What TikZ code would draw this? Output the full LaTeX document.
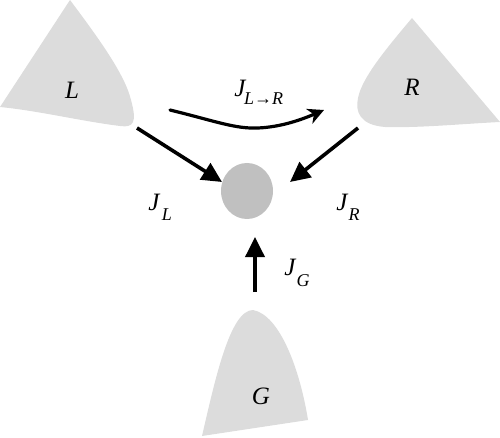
\documentclass[tikz,border=0pt]{standalone}
\usepackage{fontspec}
\setmainfont{Liberation Serif}
\usetikzlibrary{arrows.meta,shapes.geometric}
\definecolor{shapegray}{HTML}{DCDCDC}
\definecolor{dotgray}{HTML}{C0C0C0}
\tikzset{
  region/.style={fill=shapegray, draw=none},
  biglabel/.style={font=\fontsize{25}{25}\selectfont\itshape, inner sep=0pt},
  sublabel/.style={font=\fontsize{18}{18}\selectfont\itshape, inner sep=0pt},
  flow/.style={line width=3.6pt, -{Triangle[length=20pt,width=19pt]}},
  curveflow/.style={line width=3.2pt, line cap=round, -{Stealth[length=16pt,width=16pt,inset=5pt]}}
}
\begin{document}
\begin{tikzpicture}[x=1pt,y=-1pt]
\useasboundingbox (0,0) rectangle (500,438);
% regions
\path[region] (70,0) .. controls (100,40) and (125,75) .. (131,100)
  .. controls (137,122) and (134,128) .. (120,126)
  .. controls (80,121) and (40,111) .. (0,107) -- cycle;
\path[region] (412,18) -- (500,122)
  .. controls (460,124) and (420,128) .. (385,127)
  .. controls (360,125) and (355,112) .. (358,98)
  .. controls (362,78) and (385,50) .. (412,18) -- cycle;
\path[region] (253,310) .. controls (280,315) and (300,370) .. (308,420)
  -- (202,436)
  .. controls (215,380) and (230,310) .. (253,310) -- cycle;
% labels of regions
\node[biglabel] (Ltext) at (72,90) {L};
\node[biglabel] (Rtext) at (412,87) {R};
\node[biglabel] (Gtext) at (261,396) {G};
% central dot
\node[ellipse, fill=dotgray, minimum width=52pt, minimum height=56pt, inner sep=0pt] (C) at (247,191) {};
% arrow end points
\coordinate (Lout) at (137,128);
\coordinate (Lin) at (222,182);
\coordinate (Rout) at (358,128);
\coordinate (Rin) at (290,182);
\coordinate (Gout) at (255,292);
\coordinate (Gin) at (255,237);
\coordinate (LRs) at (170,110);
\coordinate (LRm) at (258,128);
\coordinate (LRe) at (324,110);
\draw[flow] (Lout) -- (Lin);
\draw[flow] (Rout) -- (Rin);
\draw[flow] (Gout) -- (Gin);
\draw[curveflow] (LRs) .. controls (215,121) and (235,129) .. (LRm)
  .. controls (282,127) and (303,119) .. (LRe);
% flux labels
\node[biglabel] (JLR) at (240,88) {J};
\node[sublabel, anchor=west] (JLRs) at (244,99) {L→R};
\node[biglabel] (JL) at (154,202) {J};
\node[sublabel] (JLs) at (167,215) {L};
\node[biglabel] (JR) at (342,202) {J};
\node[sublabel] (JRs) at (354,215) {R};
\node[biglabel] (JG) at (290,267) {J};
\node[sublabel] (JGs) at (303,281) {G};
\end{tikzpicture}
\end{document}
